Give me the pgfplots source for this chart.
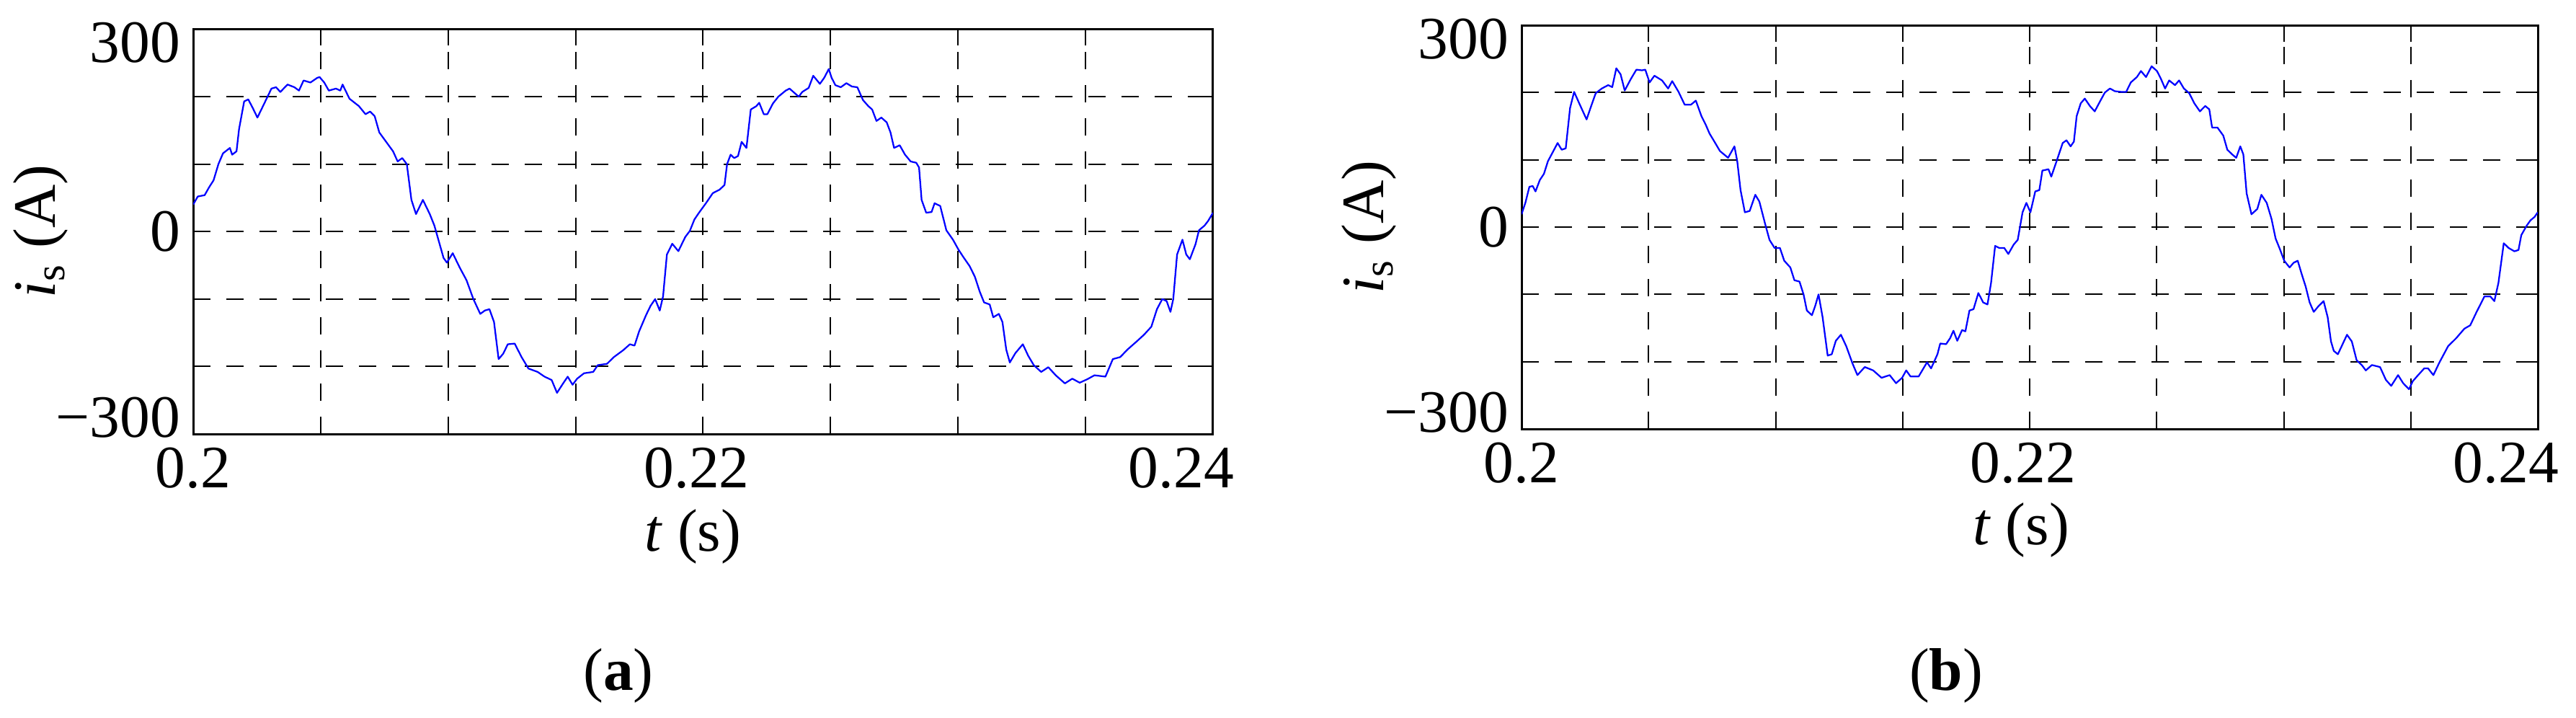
\documentclass[border=0pt]{standalone}
\usepackage{fontspec}
\setmainfont{Liberation Serif}
\usepackage{pgfplots}
\pgfplotsset{compat=1.18}
\usepackage{pgfplotstable}

\pgfplotstableread{
t v
0.2 40
0.20018 52
0.20045 54
0.20063 66
0.2008 76
0.20099 100
0.20117 116
0.20144 124
0.20153 114
0.2017 119
0.2018 152
0.202 193
0.20216 196
0.20234 183
0.20252 169
0.20279 190
0.20307 212
0.20325 214
0.20342 207
0.2037 218
0.20397 214
0.20415 209
0.20433 224
0.2046 221
0.20487 228
0.20496 229
0.20514 221
0.20532 209
0.2056 212
0.20577 209
0.20586 218
0.20613 197
0.2065 186
0.20676 174
0.20694 178
0.20712 171
0.2073 147
0.20757 133
0.20784 119
0.20802 104
0.2082 109
0.20838 100
0.20856 47
0.20874 26
0.20901 47
0.20928 26
0.20946 9
0.20964 -15
0.20982 -39
0.20995 -46
0.21018 -32
0.21045 -53
0.21072 -72
0.21099 -100
0.21126 -122
0.21144 -117
0.21162 -115
0.2118 -134
0.21198 -189
0.21216 -181
0.21234 -167
0.21261 -166
0.21288 -186
0.21315 -203
0.21351 -208
0.21378 -215
0.21406 -220
0.21427 -239
0.21451 -225
0.21469 -215
0.21488 -227
0.21506 -218
0.21533 -210
0.21569 -208
0.21587 -198
0.21623 -196
0.2165 -186
0.21686 -176
0.21713 -167
0.21731 -169
0.21749 -148
0.21776 -124
0.21794 -110
0.21812 -100
0.2183 -117
0.21843 -96
0.21858 -34
0.21879 -18
0.21903 -29
0.2193 -8
0.21948 1
0.21966 18
0.21984 28
0.22011 42
0.22038 57
0.22064 62
0.22084 69
0.22094 100
0.22108 114
0.22122 109
0.22137 112
0.22151 133
0.2217 124
0.22187 181
0.22209 186
0.2222 191
0.22238 174
0.22252 174
0.22274 190
0.22295 200
0.22324 209
0.22339 212
0.2236 205
0.22375 200
0.22389 207
0.22414 213
0.22432 231
0.22458 219
0.22475 228
0.22493 241
0.22504 228
0.22519 217
0.2254 214
0.22562 220
0.22584 215
0.22605 214
0.22627 195
0.22648 186
0.22663 181
0.2268 164
0.22699 169
0.2272 162
0.22735 147
0.22749 124
0.22771 128
0.22792 114
0.22814 104
0.22836 102
0.22847 95
0.22857 47
0.22875 28
0.22896 29
0.22908 42
0.2293 38
0.22954 2
0.2298 -12
0.23002 -27
0.23023 -39
0.23045 -51
0.23066 -67
0.23085 -89
0.23102 -105
0.23124 -108
0.23138 -127
0.2316 -122
0.23174 -134
0.23189 -175
0.23203 -194
0.23225 -180
0.23254 -167
0.23275 -184
0.23297 -198
0.23326 -208
0.23354 -201
0.23383 -213
0.23419 -225
0.23448 -218
0.23477 -224
0.23506 -219
0.23535 -213
0.23578 -215
0.23607 -189
0.23636 -186
0.23664 -175
0.237 -163
0.23729 -153
0.23758 -141
0.2378 -115
0.23801 -100
0.23818 -103
0.23833 -119
0.23844 -100
0.23859 -34
0.2388 -12
0.23895 -34
0.23909 -41
0.23931 -19
0.23945 2
0.23967 9
0.23981 16
0.24 28
}\dataA

\pgfplotstableread{
t v
0.2 19
0.20015 36
0.20031 60
0.20044 61
0.20055 53
0.20072 70
0.20088 79
0.20104 98
0.20121 110
0.20142 125
0.20158 115
0.20174 117
0.20191 177
0.20207 201
0.20227 184
0.20256 160
0.20276 182
0.20292 199
0.20316 206
0.20341 211
0.20357 208
0.20373 236
0.2039 227
0.20406 203
0.2043 220
0.20452 234
0.20474 233
0.20487 234
0.20504 215
0.20523 225
0.20553 218
0.20577 206
0.20593 217
0.20618 201
0.20642 182
0.20667 182
0.20686 188
0.20708 165
0.20724 153
0.2074 139
0.20756 129
0.20781 113
0.20813 103
0.20838 120
0.20849 98
0.20862 55
0.20879 22
0.20898 24
0.2092 48
0.20936 38
0.2096 3
0.20976 -19
0.20996 -31
0.21017 -31
0.21034 -50
0.21058 -60
0.21074 -79
0.21094 -81
0.2111 -100
0.21123 -124
0.21143 -131
0.21156 -117
0.21169 -100
0.21185 -134
0.21205 -191
0.21221 -189
0.21237 -169
0.21257 -160
0.21278 -177
0.21303 -203
0.21322 -220
0.21351 -208
0.21384 -213
0.21417 -224
0.21449 -220
0.21474 -232
0.21498 -224
0.21514 -213
0.21531 -222
0.21563 -222
0.21596 -201
0.21612 -210
0.21637 -189
0.21648 -173
0.21671 -174
0.21687 -165
0.217 -154
0.21715 -169
0.21734 -153
0.21747 -155
0.21763 -124
0.21779 -122
0.21798 -98
0.21817 -112
0.21834 -115
0.21848 -83
0.21864 -28
0.2188 -31
0.219 -31
0.21916 -40
0.21937 -26
0.21953 -19
0.21972 22
0.21987 36
0.22003 22
0.22022 53
0.22038 55
0.2205 84
0.22074 86
0.22085 75
0.22106 98
0.2213 125
0.22145 129
0.22161 120
0.22174 127
0.22185 165
0.22201 184
0.22217 191
0.22237 180
0.22256 172
0.2228 189
0.22296 200
0.22316 206
0.22335 202
0.22359 201
0.2238 201
0.22398 215
0.22422 223
0.22438 232
0.22458 223
0.2248 239
0.22501 232
0.22517 220
0.22533 206
0.22549 218
0.22572 211
0.22588 218
0.22607 206
0.22628 199
0.22648 184
0.2267 172
0.22691 180
0.22707 175
0.22718 148
0.22739 148
0.22762 136
0.22778 115
0.22797 108
0.22813 103
0.22829 120
0.22841 108
0.22854 50
0.22873 19
0.22896 27
0.22912 48
0.22933 36
0.22952 12
0.22968 -17
0.22983 -31
0.23002 -50
0.23023 -60
0.23039 -53
0.23055 -50
0.2307 -69
0.23086 -88
0.23102 -112
0.23118 -126
0.23138 -117
0.23157 -110
0.23173 -134
0.23186 -170
0.23197 -184
0.23213 -189
0.23228 -177
0.23249 -160
0.23268 -170
0.23287 -198
0.23307 -205
0.23323 -213
0.23347 -205
0.23379 -208
0.23402 -227
0.23423 -236
0.2345 -220
0.2347 -232
0.23493 -241
0.23508 -229
0.23529 -220
0.23553 -210
0.23568 -210
0.23589 -220
0.23613 -201
0.23647 -177
0.23679 -165
0.23711 -151
0.23734 -146
0.23758 -127
0.2379 -103
0.23813 -103
0.23829 -110
0.23845 -83
0.23866 -24
0.23885 -31
0.23908 -36
0.23924 -34
0.23935 -12
0.23956 2
0.23971 10
0.23987 15
0.24 22
}\dataB

\pgfplotsset{
  isstyle/.style={
    scale only axis, anchor=south west,
    xmin=0.2, xmax=0.24, ymin=-300, ymax=300,
    xtick={0.2,0.205,0.21,0.215,0.22,0.225,0.23,0.235,0.24},
    xticklabels={0.2,,,,0.22\hspace*{3.6pt},,,,0.24\hspace*{17.6pt}},
    ytick={-300,-200,-100,0,100,200,300},
    yticklabels={\raisebox{4.6pt}[\height][\depth]{−300},,,0,,,\raisebox{-3.8pt}[\height][\depth]{300}},
    grid=major,
    major grid style={black, line width=0.4pt, dash pattern=on 4.8pt off 4.4pt},
    tick align=inside,
    xtick style={black, line width=0.4pt, /pgfplots/major tick length=4.5pt},
    ytick style={black, line width=0.4pt, /pgfplots/major tick length=3pt},
    axis line style={black, line width=0.6pt},
    every tick label/.append style={inner sep=0pt},
    xticklabel shift=3.6pt, yticklabel shift=3.4pt,
    xlabel={\textit{t} (s)},
    ylabel={\textit{i}\textsubscript{s} (A)},
    every axis plot/.append style={blue, no markers, line width=0.45pt, line join=round},
  }
}

\begin{document}
\fontsize{16.7}{20}\selectfont
\begin{tikzpicture}
\useasboundingbox (0,0) rectangle (714.8pt,199pt);
\begin{axis}[isstyle,
  at={(53.6pt,78.6pt)}, width=283pt, height=112.3pt,
  xlabel style={at={(axis description cs:0.49,-0.2885)}, anchor=base, inner sep=0pt},
  ylabel style={at={(axis description cs:-0.135,0.5)}, anchor=base, inner sep=0pt},
]
\addplot table[x=t, y=v] {\dataA};
\end{axis}
\begin{axis}[isstyle,
  at={(422.2pt,80pt)}, width=282pt, height=112pt,
  xlabel style={at={(axis description cs:0.4915,-0.2857)}, anchor=base, inner sep=0pt},
  ylabel style={at={(axis description cs:-0.136,0.5)}, anchor=base, inner sep=0pt},
]
\addplot table[x=t, y=v] {\dataB};
\end{axis}
\node[anchor=base, inner sep=0pt] at (171.6pt,7.6pt) {(\textbf{a})};
\node[anchor=base, inner sep=0pt] at (540pt,7.6pt) {(\textbf{b})};
\end{tikzpicture}
\end{document}
